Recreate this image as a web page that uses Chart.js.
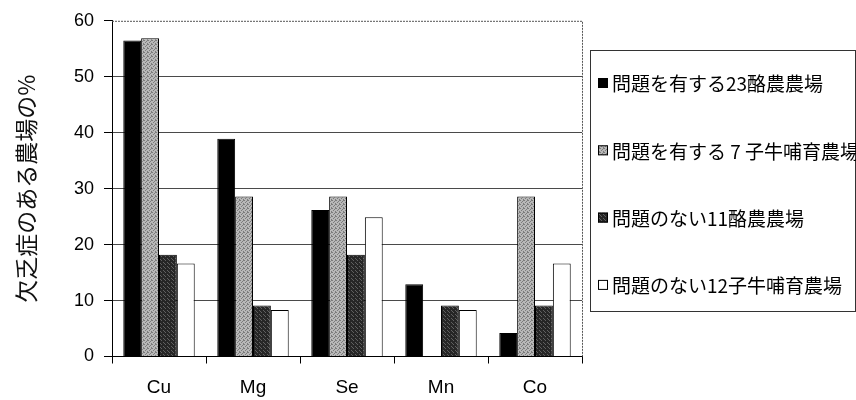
<!DOCTYPE html>
<html>
<head>
<meta charset="utf-8">
<script src="https://cdn.jsdelivr.net/npm/chart.js@4"></script>
<style>
  html, body { margin: 0; padding: 0; background: #fff; }
  #wrap { width: 856px; height: 400px; }
</style>
</head>
<body>
<div id="wrap"><canvas id="myChart" width="856" height="400"></canvas></div>
<script>
// data
var minerals = ["Cu", "Mg", "Se", "Mn", "Co"];
var seriesLabels = [
    "問題を有する23酪農農場",
    "問題を有する 7 子牛哺育農場",
    "問題のない11酪農農場",
    "問題のない12子牛哺育農場",
];
var dairyProblem = [56.5, 38.9, 26.2, 12.9, 4.2];
var calfProblem = [56.9, 28.6, 28.6, 0, 28.6];
var dairyOk = [18.2, 9.1, 18.2, 9.1, 9.1];
var calfOk = [16.6, 8.3, 24.9, 8.3, 16.6];
var yTicks = [0, 10, 20, 30, 40, 50, 60];

var latin = '"Liberation Sans", Arial, "Noto Sans CJK JP", sans-serif';
var jp = '"Noto Sans CJK JP", "Liberation Sans", sans-serif';

// stippled fills like the printed hatching
function makePattern(base, dot, spots) {
    var c = document.createElement("canvas");
    c.width = 4;
    c.height = 4;
    var g = c.getContext("2d");
    g.fillStyle = base;
    g.fillRect(0, 0, 4, 4);
    g.fillStyle = dot;
    spots.forEach(function (p) { g.fillRect(p[0], p[1], 1, 1); });
    return g.createPattern(c, "repeat");
}
var grayFill = makePattern("#b8b8b8", "#7c7c7c", [[0, 0], [2, 1], [1, 2], [3, 3], [3, 0]]);
var darkFill = makePattern("#262626", "#606060", [[1, 0], [3, 2], [0, 3]]);
var fills = ["#000000", grayFill, darkFill, "#ffffff"];

// plot frame (dotted top/right) and boxed legend
var framePlugin = {
    id: "frame",
    afterDatasetsDraw: function (chart) {
        var a = chart.chartArea, ctx = chart.ctx;
        ctx.save();
        ctx.strokeStyle = "#555";
        ctx.lineWidth = 1;
        ctx.setLineDash([2, 1]);
        ctx.beginPath();
        ctx.moveTo(a.left, a.top + 0.5);
        ctx.lineTo(a.right + 0.5, a.top + 0.5);
        ctx.lineTo(a.right + 0.5, a.bottom);
        ctx.stroke();
        ctx.restore();
    },
    afterDraw: function (chart) {
        var ctx = chart.ctx;
        var bx = 590, by = 50, bw = 265, bh = 261;
        ctx.save();
        ctx.strokeStyle = "#333";
        ctx.lineWidth = 1;
        ctx.strokeRect(bx + 0.5, by + 0.5, bw, bh);
        ctx.font = "19px " + jp;
        ctx.textBaseline = "middle";
        chart.data.datasets.forEach(function (ds, i) {
            var cy = 83 + i * 67.3;
            ctx.fillStyle = ds.backgroundColor;
            ctx.fillRect(598, cy - 5, 10, 10);
            ctx.strokeStyle = "#000";
            ctx.strokeRect(598.5, cy - 4.5, 9, 9);
            ctx.fillStyle = "#000";
            ctx.fillText(ds.label, 612, cy + 1);
        });
        ctx.restore();
    },
};

var datasets = [dairyProblem, calfProblem, dairyOk, calfOk].map(function (vals, i) {
    return {
        label: seriesLabels[i],
        data: vals,
        backgroundColor: fills[i],
        borderColor: "#000",
        borderWidth: 1,
        categoryPercentage: 0.76,
        barPercentage: 1.0,
    };
});

var ctx = document.getElementById("myChart").getContext("2d");

var myChart = new Chart(ctx, {
    type: "bar",
    data: {
        labels: minerals,
        datasets: datasets,
    },
    options: {
        responsive: false,
        animation: false,
        layout: {
            padding: { top: 18, right: 274, left: 0, bottom: 0 },
        },
        plugins: {
            legend: { display: false },
            tooltip: { enabled: false },
        },
        scales: {
            x: {
                grid: {
                    offset: true,
                    drawOnChartArea: false,
                    drawTicks: true,
                    tickLength: 7,
                    tickColor: "#000",
                },
                border: { color: "#000", width: 1 },
                ticks: {
                    color: "#000",
                    font: { family: latin, size: 19 },
                    padding: 13,
                },
                afterFit: function (scale) {
                    scale.height = 43.5;
                },
            },
            y: {
                min: 0,
                max: 60,
                afterBuildTicks: function (scale) {
                    scale.ticks = yTicks.map(function (v) { return { value: v }; });
                },
                grid: {
                    color: function (c) {
                        return c.tick && c.tick.value === 60 ? "rgba(0,0,0,0)" : "#4a4a4a";
                    },
                    tickColor: "#000",
                    tickLength: 8,
                    lineWidth: 1,
                },
                border: { color: "#000", width: 1 },
                ticks: {
                    color: "#000",
                    font: { family: latin, size: 18 },
                    padding: 10,
                },
                title: {
                    display: true,
                    text: "欠乏症のある農場の%",
                    color: "#111",
                    font: { family: jp, size: 23 },
                    padding: { top: 12, bottom: 0 },
                },
                afterFit: function (scale) {
                    scale.width = 112;
                },
            },
        },
    },
    plugins: [framePlugin],
});
</script>
</body>
</html>
